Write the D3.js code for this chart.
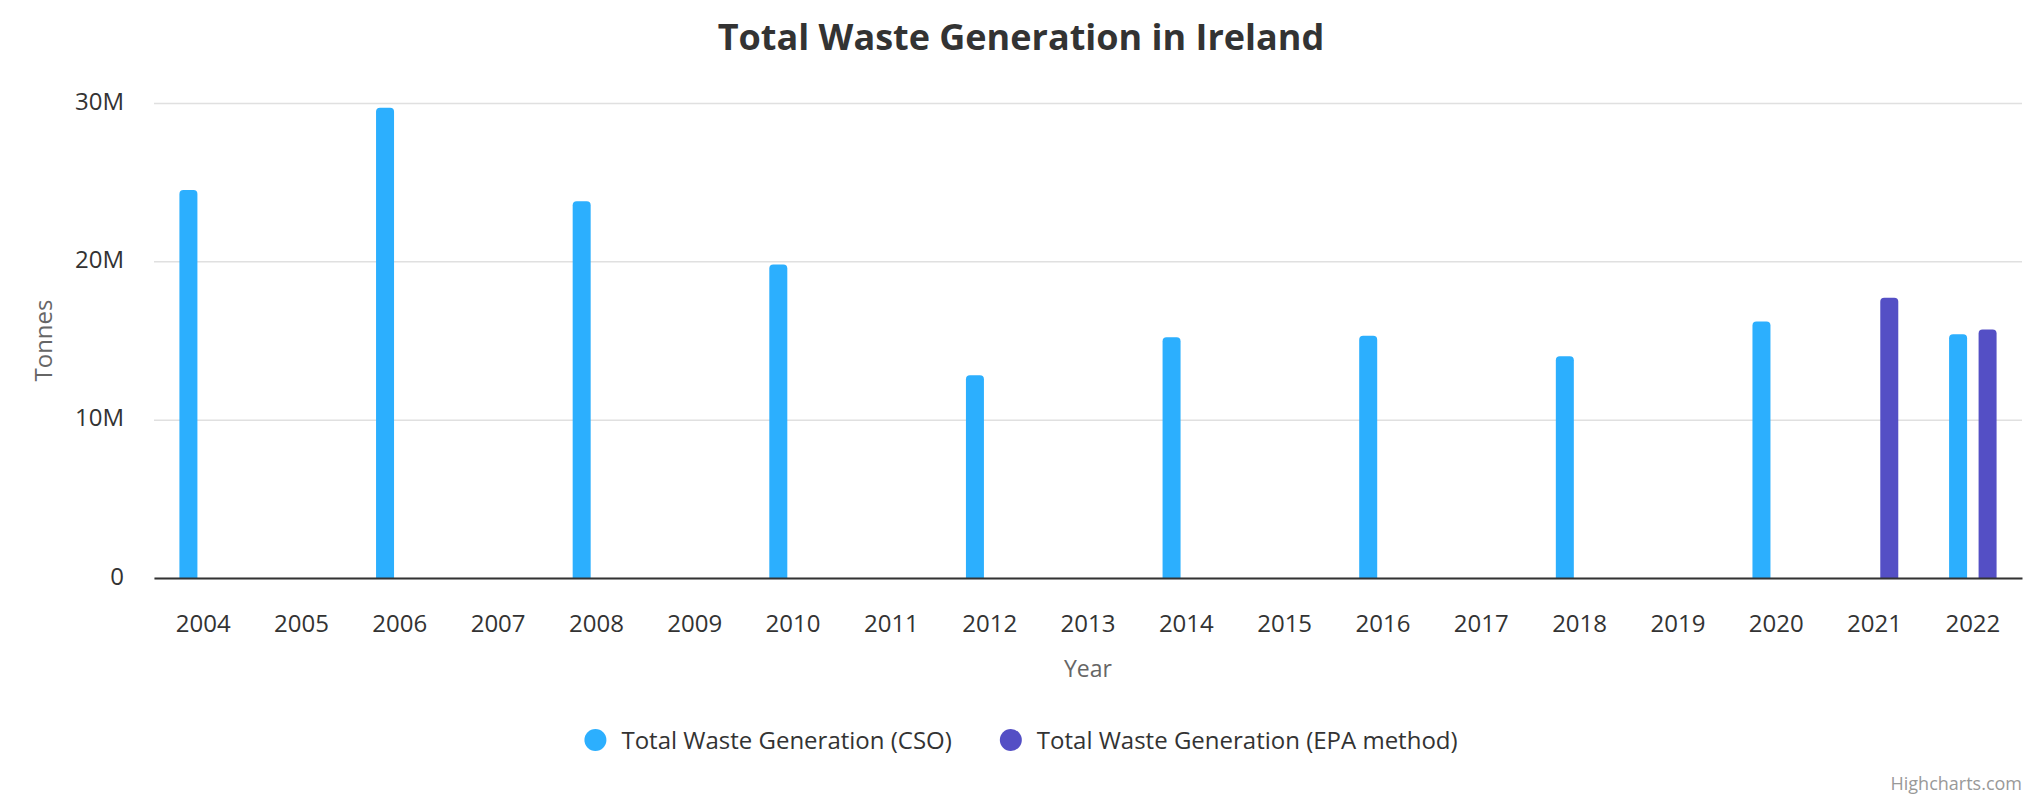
<!DOCTYPE html>
<html>
<head>
<meta charset="utf-8">
<script src="https://cdn.jsdelivr.net/npm/d3@7"></script>
<style>
    body { margin: 0; background: #fff; }
    svg { font-family: 'Open Sans', sans-serif; display: block; }
</style>
</head>
<body>
<div class="visContainer"></div>
<script>
// Data.
const years = ['2004', '2005', '2006', '2007', '2008', '2009', '2010', '2011', '2012', '2013',
               '2014', '2015', '2016', '2017', '2018', '2019', '2020', '2021', '2022'];
const csoValues = [24.5e6, null, 29.7e6, null, 23.8e6, null, 19.8e6, null, 12.8e6, null,
                   15.2e6, null, 15.3e6, null, 14.0e6, null, 16.2e6, null, 15.4e6];
const epaValues = [null, null, null, null, null, null, null, null, null, null,
                   null, null, null, null, null, null, null, 17.7e6, 15.7e6];
const seriesNames = ['Total Waste Generation (CSO)', 'Total Waste Generation (EPA method)'];
const seriesColors = ['#2caffe', '#544fc5'];
const yTicks = [0, 10e6, 20e6, 30e6];
const yTickLabels = ['0', '10M', '20M', '30M'];

// SVG constants.
const width = 2042;
const height = 800;
const plot = { left: 154, right: 2022, top: 103, bottom: 578 };
const barWidth = 18;

const svg = d3.select('.visContainer')
              .append('svg')
              .attr('width', width)
              .attr('height', height);

// Scales.
const x = d3.scaleBand()
            .domain(years)
            .range([plot.left, plot.right])
            .padding(0);

const xInner = d3.scaleBand()
                 .domain([0, 1])
                 .range([x.bandwidth() * 0.2, x.bandwidth() * 0.8]);

const y = d3.scaleLinear()
            .domain([0, 30e6])
            .range([plot.bottom, plot.top]);

// Gridlines and y labels.
const yAxis = svg.append('g')
                 .attr('transform', 'translate(' + plot.left + ',0)')
                 .call(d3.axisLeft(y)
                         .tickValues(yTicks)
                         .tickFormat((d, i) => yTickLabels[i])
                         .tickSize(-(plot.right - plot.left))
                         .tickPadding(30));
yAxis.select('.domain').remove();
yAxis.selectAll('line')
     .attr('stroke', '#e0e0e0')
     .attr('stroke-width', 1.5);
yAxis.selectAll('text')
     .attr('fill', '#333333')
     .attr('font-size', 24)
     .attr('dy', '0.25em')
     .style('font-family', "'Open Sans', sans-serif");

// Bars with rounded tops.
function roundedTop(x0, y0, w, h, r) {
    r = Math.min(r, h, w / 2);
    return 'M' + x0 + ',' + (y0 + h) +
           'V' + (y0 + r) +
           'A' + r + ',' + r + ' 0 0 1 ' + (x0 + r) + ',' + y0 +
           'H' + (x0 + w - r) +
           'A' + r + ',' + r + ' 0 0 1 ' + (x0 + w) + ',' + (y0 + r) +
           'V' + (y0 + h) + 'Z';
}

[csoValues, epaValues].forEach((values, s) => {
    const points = years.map((yr, i) => ({ year: yr, value: values[i] }))
                        .filter((d) => d.value !== null);
    svg.append('g')
       .selectAll('path')
       .data(points)
       .enter()
       .append('path')
       .attr('fill', seriesColors[s])
       .attr('d', (d) => {
           const cx = x(d.year) + xInner(s) + xInner.bandwidth() / 2;
           return roundedTop(cx - barWidth / 2, y(d.value), barWidth, y(0) - y(d.value), 4);
       });
});

// X axis.
const xAxis = svg.append('g')
                 .attr('transform', 'translate(0,' + plot.bottom + ')')
                 .call(d3.axisBottom(x).tickSize(0));
xAxis.select('.domain')
     .attr('stroke', '#333333')
     .attr('stroke-width', 2);
xAxis.selectAll('text')
     .attr('fill', '#333333')
     .attr('font-size', 24)
     .attr('dy', null)
     .attr('y', 54)
     .style('font-family', "'Open Sans', sans-serif");

// Axis titles.
svg.append('text')
   .attr('x', (plot.left + plot.right) / 2)
   .attr('y', 677)
   .attr('text-anchor', 'middle')
   .attr('font-size', 23)
   .attr('fill', '#666666')
   .text('Year');

svg.append('text')
   .attr('transform', 'translate(52,' + (plot.top + plot.bottom) / 2 + ') rotate(-90)')
   .attr('text-anchor', 'middle')
   .attr('font-size', 24)
   .attr('fill', '#666666')
   .text('Tonnes');

// Title.
svg.append('text')
   .attr('x', width / 2)
   .attr('y', 50)
   .attr('text-anchor', 'middle')
   .attr('font-size', 36)
   .attr('font-weight', 'bold')
   .attr('fill', '#333333')
   .text('Total Waste Generation in Ireland');

// Legend.
const legend = svg.append('g');
const items = legend.selectAll('g')
                    .data(seriesNames)
                    .enter()
                    .append('g');
items.append('circle')
     .attr('r', 11)
     .attr('cy', 740)
     .attr('fill', (d, i) => seriesColors[i]);
items.append('text')
     .attr('y', 749)
     .attr('font-size', 24)
     .attr('fill', '#333333')
     .text((d) => d);

let cursor = 0;
items.each(function () {
    const g = d3.select(this);
    const tw = g.select('text').node().getComputedTextLength();
    g.select('circle').attr('cx', cursor + 11);
    g.select('text').attr('x', cursor + 37);
    cursor += 37 + tw + 48;
});
const legendWidth = cursor - 48;
legend.attr('transform', 'translate(' + (width / 2 - legendWidth / 2) + ',0)');

// Credits.
svg.append('text')
   .attr('x', 2022)
   .attr('y', 790)
   .attr('text-anchor', 'end')
   .attr('font-size', 18)
   .attr('fill', '#999999')
   .text('Highcharts.com');
</script>
</body>
</html>
